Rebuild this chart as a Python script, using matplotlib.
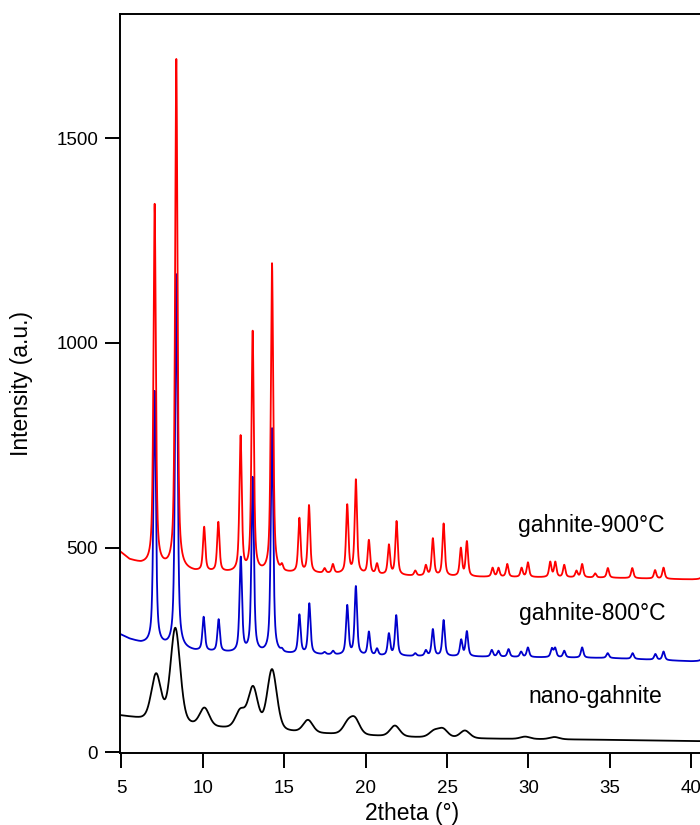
import numpy as np
import matplotlib.pyplot as plt

plt.rcParams['font.family'] = ['Liberation Sans', 'DejaVu Sans']

# background (2theta, intensity)
bg_2theta = [4.9, 5.5, 6.2, 9.5, 12.0, 17.0, 20.0, 23.0, 27.0, 35.0, 40.0, 40.6]
bg_900 = [490, 470, 460, 440, 438, 436, 434, 430, 428, 426, 422, 422]
bg_800 = [288, 276, 266, 246, 242, 238, 235, 234, 233, 230, 222, 222]
bg_nano = [89, 85, 80, 62, 55, 45, 40, 36, 33, 30, 27, 27]

# peak positions (2theta) and apex intensities
pk_900 = [7.04, 8.37, 10.08, 10.95, 12.32, 13.06, 14.25, 14.86, 15.93, 16.52,
          17.48, 17.99, 18.87, 19.40, 20.20, 20.70, 21.43, 21.90, 23.05, 23.70,
          24.13, 24.79, 25.85, 26.22, 27.80, 28.16, 28.70, 29.58, 29.97, 31.34,
          31.65, 32.20, 32.95, 33.30, 34.10, 34.88, 36.38, 37.78, 38.30, 40.80]
top_900 = [1340, 1694, 551, 563, 775, 1030, 1195, 462, 573, 604,
           450, 460, 606, 667, 519, 462, 508, 565, 444, 458,
           523, 559, 500, 516, 451, 451, 460, 451, 464, 466,
           466, 458, 444, 460, 437, 450, 450, 445, 451, 470]

pk_800 = [7.04, 8.37, 10.05, 10.97, 12.33, 13.06, 14.25, 14.86, 15.93, 16.54,
          17.48, 18.00, 18.87, 19.40, 20.20, 20.70, 21.43, 21.88, 23.05, 23.70,
          24.13, 24.79, 25.87, 26.22, 27.75, 28.16, 28.78, 29.55, 29.97, 31.44,
          31.64, 32.20, 33.30, 34.87, 36.40, 37.80, 38.30, 40.80]
top_800 = [883, 1168, 331, 325, 478, 673, 792, 255, 337, 364,
           245, 248, 360, 406, 295, 254, 291, 335, 242, 250,
           301, 323, 276, 296, 250, 248, 252, 246, 256, 255,
           256, 248, 256, 242, 242, 240, 246, 262]

pk_nano = [7.13, 8.31, 10.10, 12.30, 13.08, 14.25, 16.46, 18.90, 19.35, 21.80,
           24.20, 24.75, 26.10, 29.80, 31.60]
top_nano = [193, 304, 109, 107, 162, 203, 79, 80, 86, 65,
            55, 59, 53, 38, 37]


def profile(x, c, w, eta):
    lor = 1.0 / (1.0 + ((x - c) / (w / 2)) ** 2)
    gau = np.exp(-4 * np.log(2) * (x - c) ** 2 / w ** 2)
    return eta * lor + (1 - eta) * gau


def pattern(x, bg, pos, tops, w, eta):
    pos = np.asarray(pos, float)
    tops = np.asarray(tops, float)
    base_at_pk = np.interp(pos, bg_2theta, bg)
    m = np.array([[profile(p, c, w, eta) for c in pos] for p in pos])
    amp = np.linalg.lstsq(m, tops - base_at_pk, rcond=None)[0]
    amp = np.clip(amp, 0, None)
    y = np.interp(x, bg_2theta, bg)
    for c, a in zip(pos, amp):
        y = y + a * profile(x, c, w, eta)
    return y


two_theta = np.arange(4.9, 40.6, 0.005)
y_nano = pattern(two_theta, bg_nano, pk_nano, top_nano, 0.70, 0.3)
y_800 = pattern(two_theta, bg_800, pk_800, top_800, 0.18, 0.65)
y_900 = pattern(two_theta, bg_900, pk_900, top_900, 0.17, 0.65)

fig = plt.figure(figsize=(7, 8.25), dpi=100)
ax = fig.add_axes([0.1714, 0.0873, 0.8286, 0.8958])

ax.plot(two_theta, y_nano, color='black', lw=1.3)
ax.plot(two_theta, y_800, color='#0000cc', lw=1.3)
ax.plot(two_theta, y_900, color='#ff0000', lw=1.3)

ax.text(33.85, 555, 'gahnite-900\u00b0C', ha='center', va='center', fontsize=16.5)
ax.text(33.95, 340, 'gahnite-800\u00b0C', ha='center', va='center', fontsize=16.5)
ax.text(34.1, 135, 'nano-gahnite', ha='center', va='center', fontsize=16.5)

ax.set_xlim(4.91, 40.54)
ax.set_ylim(-2, 1804)
ax.set_xticks([5, 10, 15, 20, 25, 30, 35, 40])
ax.set_yticks([0, 500, 1000, 1500])

ax.spines['right'].set_visible(False)
for s in ['left', 'bottom', 'top']:
    ax.spines[s].set_linewidth(1.4)
ax.tick_params(axis='both', direction='out', length=10.8, width=1.4, labelsize=13.5)
ax.tick_params(axis='x', pad=9)
ax.tick_params(axis='y', pad=5)

ax.set_xlabel('2theta (\u00b0)', fontsize=16.5)
ax.set_ylabel('Intensity (a.u.)', fontsize=16.5)
ax.xaxis.set_label_coords(0.503, -0.067)
ax.yaxis.set_label_coords(-0.15, 0.5)

fig.savefig('out.png', dpi=100)
